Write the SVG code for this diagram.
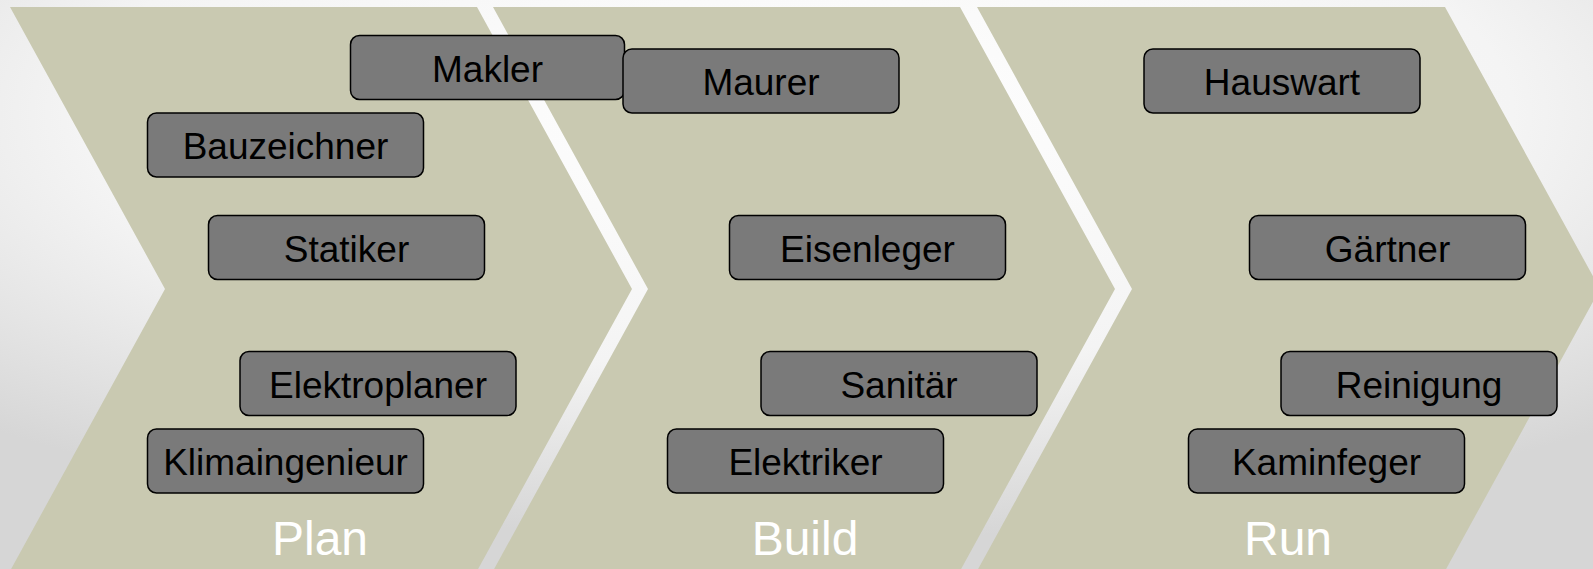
<svg xmlns="http://www.w3.org/2000/svg" width="1593" height="569" viewBox="0 0 1593 569">
<defs>
<radialGradient id="bg" cx="0.5" cy="0.2" r="0.75">
<stop offset="0" stop-color="#ffffff"/>
<stop offset="0.6" stop-color="#f4f4f4"/>
<stop offset="1" stop-color="#d6d6d6"/>
</radialGradient>
<style>
.chev{fill:#c9c9b1}
.box{fill:#7a7a7a;stroke:#000;stroke-width:1.5}
.t{font-family:"Liberation Sans",Arial,sans-serif;font-size:37px;fill:#000;text-anchor:middle}
.ph{font-family:"Liberation Sans",Arial,sans-serif;font-size:48px;fill:#fff;text-anchor:middle}
</style>
</defs>
<rect width="1593" height="569" fill="url(#bg)"/>
<g id="phases">
<g id="phase-plan">
<path class="chev" d="M10,7 L477,7 L632,289 L477,571 L10,571 L165,289 Z"/>
<text class="ph" x="320" y="555">Plan</text>
</g>
<g id="phase-build">
<path class="chev" d="M493,7 L960,7 L1115,289 L960,571 L493,571 L648,289 Z"/>
<text class="ph" x="805" y="555">Build</text>
</g>
<g id="phase-run">
<path class="chev" d="M977,7 L1445,7 L1600,289 L1445,571 L977,571 L1132,289 Z"/>
<text class="ph" x="1288" y="555">Run</text>
</g>
</g>
<g id="connectors"></g>
<g id="makler"><rect class="box" x="350.5" y="35.5" width="274" height="64" rx="9"/><text class="t" x="487.5" y="81.5">Makler</text></g>
<g id="maurer"><rect class="box" x="623" y="49" width="276" height="64" rx="9"/><text class="t" x="761" y="95">Maurer</text></g>
<g id="hauswart"><rect class="box" x="1144" y="49" width="276" height="64" rx="9"/><text class="t" x="1282" y="95">Hauswart</text></g>
<g id="bauzeichner"><rect class="box" x="147.5" y="113" width="276" height="64" rx="9"/><text class="t" x="285.5" y="159">Bauzeichner</text></g>
<g id="statiker"><rect class="box" x="208.5" y="215.5" width="276" height="64" rx="9"/><text class="t" x="346.5" y="261.5">Statiker</text></g>
<g id="eisenleger"><rect class="box" x="729.5" y="215.5" width="276" height="64" rx="9"/><text class="t" x="867.5" y="261.5">Eisenleger</text></g>
<g id="gaertner"><rect class="box" x="1249.5" y="215.5" width="276" height="64" rx="9"/><text class="t" x="1387.5" y="261.5">Gärtner</text></g>
<g id="elektroplaner"><rect class="box" x="240" y="351.5" width="276" height="64" rx="9"/><text class="t" x="378" y="397.5">Elektroplaner</text></g>
<g id="sanitaer"><rect class="box" x="761" y="351.5" width="276" height="64" rx="9"/><text class="t" x="899" y="397.5">Sanitär</text></g>
<g id="reinigung"><rect class="box" x="1281" y="351.5" width="276" height="64" rx="9"/><text class="t" x="1419" y="397.5">Reinigung</text></g>
<g id="klimaingenieur"><rect class="box" x="147.5" y="429" width="276" height="64" rx="9"/><text class="t" x="285.5" y="475">Klimaingenieur</text></g>
<g id="elektriker"><rect class="box" x="667.5" y="429" width="276" height="64" rx="9"/><text class="t" x="805.5" y="475">Elektriker</text></g>
<g id="kaminfeger"><rect class="box" x="1188.5" y="429" width="276" height="64" rx="9"/><text class="t" x="1326.5" y="475">Kaminfeger</text></g>
</svg>
